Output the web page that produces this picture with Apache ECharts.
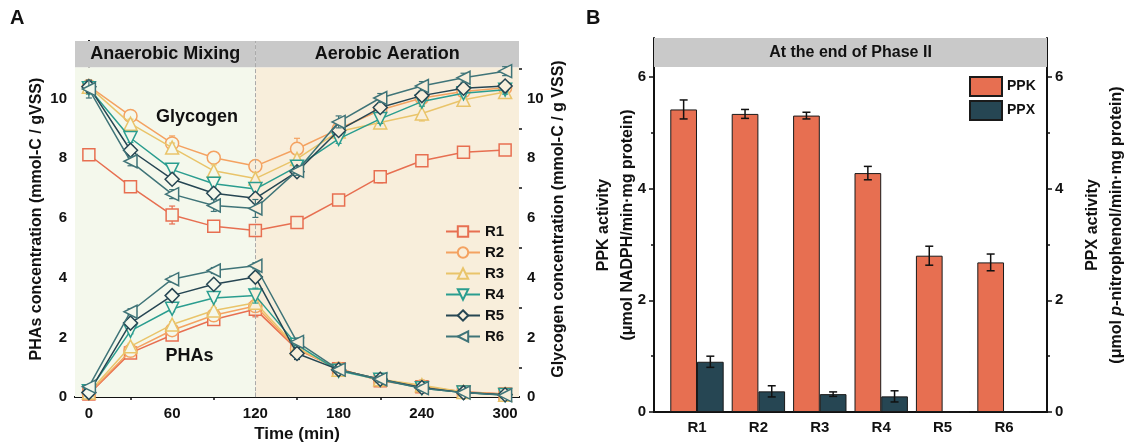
<!DOCTYPE html>
<html><head><meta charset="utf-8">
<script src="https://cdn.jsdelivr.net/npm/echarts@6/dist/echarts.min.js"></script>
<style>html,body{margin:0;padding:0;background:#fff}#c{width:1133px;height:448px}</style>
</head><body><div id="c"></div>
<script>
// ---------- DATA ----------
const time = [0, 30, 60, 90, 120, 150, 180, 210, 240, 270, 300];
const reactors = ['R1', 'R2', 'R3', 'R4', 'R5', 'R6'];

const glyR1 = [8.12, 7.05, 6.10, 5.72, 5.58, 5.85, 6.60, 7.38, 7.92, 8.20, 8.28];
const glyR2 = [10.42, 9.42, 8.50, 8.02, 7.74, 8.32, 8.98, 9.62, 10.02, 10.24, 10.36];
const glyR3 = [10.40, 9.16, 8.36, 7.58, 7.32, 7.98, 8.90, 9.20, 9.50, 9.96, 10.22];
const glyR4 = [10.35, 8.68, 7.62, 7.15, 6.97, 7.72, 8.65, 9.32, 9.90, 10.18, 10.30];
const glyR5 = [10.40, 8.27, 7.30, 6.83, 6.66, 7.55, 8.93, 9.70, 10.10, 10.35, 10.42];
const glyR6 = [10.32, 7.90, 6.80, 6.42, 6.32, 7.58, 9.22, 10.02, 10.42, 10.70, 10.92];

const glyErrR1 = [0.10, 0.15, 0.30, 0.10, 0.20, 0.10, 0.10, 0.20, 0.15, 0.10, 0.15];
const glyErrR2 = [0.20, 0.10, 0.25, 0.15, 0.15, 0.35, 0.15, 0.15, 0.15, 0.15, 0.15];
const glyErrR3 = [0.20, 0.15, 0.15, 0.20, 0.20, 0.15, 0.15, 0.15, 0.25, 0.20, 0.20];
const glyErrR4 = [0.20, 0.15, 0.15, 0.15, 0.20, 0.15, 0.15, 0.15, 0.15, 0.10, 0.15];
const glyErrR5 = [0.20, 0.15, 0.15, 0.15, 0.15, 0.15, 0.15, 0.15, 0.15, 0.10, 0.15];
const glyErrR6 = [0.30, 0.15, 0.15, 0.20, 0.30, 0.15, 0.20, 0.15, 0.15, 0.15, 0.15];

const phaR1 = [0.10, 1.48, 2.08, 2.60, 2.94, 1.60, 0.95, 0.55, 0.35, 0.18, 0.10];
const phaR2 = [0.12, 1.55, 2.24, 2.74, 3.05, 1.62, 0.95, 0.56, 0.36, 0.16, 0.10];
const phaR3 = [0.15, 1.70, 2.43, 2.90, 3.16, 1.66, 0.92, 0.60, 0.40, 0.17, 0.08];
const phaR4 = [0.20, 2.22, 2.96, 3.32, 3.40, 1.75, 0.88, 0.58, 0.30, 0.15, 0.07];
const phaR5 = [0.15, 2.48, 3.40, 3.78, 4.02, 1.46, 0.92, 0.60, 0.32, 0.15, 0.08];
const phaR6 = [0.35, 2.86, 3.95, 4.24, 4.40, 1.85, 0.92, 0.60, 0.30, 0.15, 0.06];

const phaErrR1 = [0.05, 0.10, 0.10, 0.10, 0.25, 0.15, 0.15, 0.10, 0.10, 0.08, 0.05];
const phaErrR2 = [0.05, 0.10, 0.10, 0.10, 0.15, 0.15, 0.15, 0.10, 0.10, 0.08, 0.05];
const phaErrR3 = [0.05, 0.10, 0.10, 0.10, 0.15, 0.15, 0.15, 0.12, 0.12, 0.08, 0.05];
const phaErrR4 = [0.05, 0.10, 0.10, 0.10, 0.25, 0.12, 0.12, 0.10, 0.10, 0.08, 0.05];
const phaErrR5 = [0.05, 0.10, 0.10, 0.10, 0.10, 0.20, 0.10, 0.10, 0.10, 0.08, 0.05];
const phaErrR6 = [0.05, 0.10, 0.10, 0.10, 0.10, 0.12, 0.10, 0.10, 0.10, 0.08, 0.05];

const barCats = ['R1', 'R2', 'R3', 'R4', 'R5', 'R6'];
const ppk = [5.42, 5.34, 5.31, 4.28, 2.80, 2.68];
const ppkErr = [0.17, 0.08, 0.06, 0.12, 0.17, 0.15];
const ppx = [0.90, 0.37, 0.32, 0.28, 0, 0];
const ppxErr = [0.10, 0.10, 0.04, 0.10, 0, 0];

const xTicksA = [0, 60, 120, 180, 240, 300];
const xMinorA = [30, 90, 150, 210, 270];
const yTicksA = [0, 2, 4, 6, 8, 10];
const yMinorA = [1, 3, 5, 7, 9, 11];
const yTicksB = [0, 2, 4, 6];
const yMinorB = [1, 3, 5];
const barPos = [1, 2, 3, 4, 5, 6];

// ---------- STYLE ----------
const FONT = "'Liberation Sans', Arial, sans-serif";
const NARROW = "'Liberation Sans Narrow', 'Liberation Sans', Arial, sans-serif";
const colors = ['#e76f51', '#f4a261', '#e9c46a', '#2a9d8f', '#264653', '#3f7478'];
const symbols = [
  'rect', 'circle', 'triangle',
  'path://M0,0L10,0L5,10Z',
  'diamond',
  'path://M10,0L10,10L0,5Z'
];
const symSizes = [12, 13, 13, 13, 14, 13];
const bgA = '#f4f8ec', bgB = '#f8eedb', headGray = '#c9c9c9';
const glyAll = [glyR1, glyR2, glyR3, glyR4, glyR5, glyR6];
const glyErrAll = [glyErrR1, glyErrR2, glyErrR3, glyErrR4, glyErrR5, glyErrR6];
const phaAll = [phaR1, phaR2, phaR3, phaR4, phaR5, phaR6];
const phaErrAll = [phaErrR1, phaErrR2, phaErrR3, phaErrR4, phaErrR5, phaErrR6];

const A_MAX = 11.93, A_HEAD = 11.05, B_MAX = 6.7, B_HEAD = 6.18;
const BAR_W = 26.7;

function errRender(color, dx, cap, lw) {
  return function (params, api) {
    const x = api.value(0), y = api.value(1), e = api.value(2);
    if (!e) return null;
    const t = api.coord([x, y + e]);
    const b = api.coord([x, y - e]);
    const xs = t[0] + dx;
    const style = { stroke: color, lineWidth: lw, fill: null };
    return {
      type: 'group', children: [
        { type: 'line', shape: { x1: xs, y1: t[1], x2: xs, y2: b[1] }, style: style },
        { type: 'line', shape: { x1: xs - cap, y1: t[1], x2: xs + cap, y2: t[1] }, style: style },
        { type: 'line', shape: { x1: xs - cap, y1: b[1], x2: xs + cap, y2: b[1] }, style: style }
      ]
    };
  };
}

const axisLineStyle = { show: true, lineStyle: { color: '#111', width: 2 } };
const tickLabelA = { color: '#111', fontWeight: 'bold', fontSize: 15, fontFamily: FONT };
const tickLabelB = { color: '#111', fontWeight: 'bold', fontSize: 15, fontFamily: NARROW };

const series = [];
// background + header for panel A
series.push({
  type: 'line', xAxisIndex: 0, yAxisIndex: 0, data: [], silent: true, z: 0,
  markArea: {
    silent: true,
    data: [
      [{ xAxis: -10, yAxis: 0, itemStyle: { color: bgA } }, { xAxis: 120, yAxis: A_HEAD }],
      [{ xAxis: 120, yAxis: 0, itemStyle: { color: bgB } }, { xAxis: 310, yAxis: A_HEAD }],
      [{ xAxis: -10, yAxis: A_HEAD, name: 'Anaerobic Mixing', itemStyle: { color: headGray } }, { xAxis: 120, yAxis: A_MAX }],
      [{ xAxis: 120, yAxis: A_HEAD, name: 'Aerobic Aeration', itemStyle: { color: headGray } }, { xAxis: 310, yAxis: A_MAX }]
    ],
    label: { show: true, position: 'inside', color: '#111', fontWeight: 'bold', fontSize: 18, fontFamily: FONT,
      formatter: p => (p.name || '') }
  },
  markLine: {
    silent: true, symbol: 'none', label: { show: false },
    lineStyle: { color: '#aaa', type: 'dashed', width: 1 },
    data: [{ xAxis: 120 }]
  }
});

reactors.forEach((r, k) => {
  const mk = (arr) => time.map((t, i) => ({ value: [t, arr[i]], itemStyle: { color: t < 120 ? bgA : bgB } }));
  const base = {
    name: r, type: 'line', xAxisIndex: 0, yAxisIndex: 0,
    symbol: symbols[k], symbolSize: symSizes[k], showAllSymbol: true,
    lineStyle: { color: colors[k], width: 1.5 },
    itemStyle: { color: bgB, borderColor: colors[k], borderWidth: 1.5 },
    emphasis: { disabled: true }, z: 3 + k
  };
  series.push(Object.assign({}, base, { data: mk(glyAll[k]) }));
  series.push(Object.assign({}, base, { data: mk(phaAll[k]) }));
  const errData = time.map((t, i) => [t, glyAll[k][i], glyErrAll[k][i]])
    .concat(time.map((t, i) => [t, phaAll[k][i], phaErrAll[k][i]]));
  series.push({
    type: 'custom', xAxisIndex: 0, yAxisIndex: 0, data: errData, z: 3 + k, silent: true,
    encode: { x: 0, y: 1 }, renderItem: errRender(colors[k], 0, 3, 1.2)
  });
});

// panel B header
series.push({
  type: 'line', xAxisIndex: 3, yAxisIndex: 4, data: [], silent: true, z: 0,
  markArea: {
    silent: true,
    data: [[{ xAxis: 0.3, yAxis: B_HEAD, name: 'At the end of Phase II', itemStyle: { color: headGray } }, { xAxis: 6.7, yAxis: B_MAX }]],
    label: { show: true, position: 'inside', color: '#111', fontSize: 16, fontWeight: 'bold', fontFamily: NARROW, formatter: p => p.name }
  }
});
series.push({
  name: 'PPK', type: 'bar', xAxisIndex: 3, yAxisIndex: 4,
  data: ppk.map((v, i) => [barPos[i], v]), barWidth: BAR_W, barGap: '0%',
  itemStyle: { color: '#e76f51', borderColor: '#1a1a1a', borderWidth: 1 }, emphasis: { disabled: true }
});
series.push({
  name: 'PPX', type: 'bar', xAxisIndex: 3, yAxisIndex: 4,
  data: ppx.map((v, i) => [barPos[i], v]), barWidth: BAR_W, barGap: '0%',
  itemStyle: { color: '#264653', borderColor: '#1a1a1a', borderWidth: 1 }, emphasis: { disabled: true }
});
series.push({
  type: 'custom', xAxisIndex: 3, yAxisIndex: 4, z: 5, silent: true, encode: { x: 0, y: 1 },
  data: ppk.map((v, i) => [barPos[i], v, ppkErr[i]]), renderItem: errRender('#111', -BAR_W / 2, 4, 1.5)
});
series.push({
  type: 'custom', xAxisIndex: 3, yAxisIndex: 4, z: 5, silent: true, encode: { x: 0, y: 1 },
  data: ppx.map((v, i) => [barPos[i], v, ppxErr[i]]), renderItem: errRender('#111', BAR_W / 2, 4, 1.5)
});

const option = {
  animation: false,
  backgroundColor: '#fff',
  textStyle: { fontFamily: FONT },
  grid: [
    { left: 75, top: 41, width: 444, height: 358, containLabel: false },
    { left: 654, top: 38, width: 393, height: 374, containLabel: false }
  ],
  xAxis: [
    { gridIndex: 0, type: 'value', min: -10, max: 310, axisLine: axisLineStyle,
      axisTick: { show: true, inside: true, length: 5, customValues: xTicksA, lineStyle: { color: '#111', width: 1.5 } },
      axisLabel: Object.assign({ customValues: xTicksA, margin: 9 }, tickLabelA),
      splitLine: { show: false },
      name: 'Time (min)', nameLocation: 'middle', nameGap: 28,
      nameTextStyle: { color: '#111', fontWeight: 'bold', fontSize: 17, fontFamily: FONT } },
    { gridIndex: 0, type: 'value', min: -10, max: 310, axisLine: { show: false },
      axisTick: { show: true, inside: true, length: 3, customValues: xMinorA, lineStyle: { color: '#111', width: 1.5 } },
      axisLabel: { show: false }, splitLine: { show: false } },
    { gridIndex: 0, type: 'value', position: 'top', min: -10, max: 310, axisLine: axisLineStyle,
      axisTick: { show: false }, axisLabel: { show: false }, splitLine: { show: false } },
    { gridIndex: 1, type: 'value', min: 0.3, max: 6.7, axisLine: axisLineStyle,
      axisTick: { show: false },
      axisLabel: Object.assign({ customValues: barPos, margin: 8, formatter: v => barCats[Math.round(v) - 1] || '' }, tickLabelB),
      splitLine: { show: false } },
    { gridIndex: 1, type: 'value', position: 'top', min: 0.3, max: 6.7, axisLine: axisLineStyle,
      axisTick: { show: false }, axisLabel: { show: false }, splitLine: { show: false } }
  ],
  yAxis: [
    { gridIndex: 0, type: 'value', position: 'left', min: 0, max: A_MAX, axisLine: axisLineStyle,
      axisTick: { show: true, length: 5, customValues: yTicksA, lineStyle: { color: '#111', width: 1.5 } },
      axisLabel: Object.assign({ customValues: yTicksA, margin: 8 }, tickLabelA), splitLine: { show: false },
      name: 'PHAs concentration (mmol-C / gVSS)', nameLocation: 'middle', nameGap: 30,
      nameTextStyle: { color: '#111', fontWeight: 'bold', fontSize: 16, fontFamily: FONT } },
    { gridIndex: 0, type: 'value', position: 'left', min: 0, max: A_MAX, axisLine: { show: false },
      axisTick: { show: true, length: 3, customValues: yMinorA, lineStyle: { color: '#111', width: 1.5 } },
      axisLabel: { show: false }, splitLine: { show: false } },
    { gridIndex: 0, type: 'value', position: 'right', min: 0, max: A_MAX, axisLine: axisLineStyle,
      axisTick: { show: true, length: 5, customValues: yTicksA, lineStyle: { color: '#111', width: 1.5 } },
      axisLabel: Object.assign({ customValues: yTicksA, margin: 8 }, tickLabelA), splitLine: { show: false },
      name: 'Glycogen concentration (mmol-C / g VSS)', nameLocation: 'middle', nameGap: 32,
      nameTextStyle: { color: '#111', fontWeight: 'bold', fontSize: 16, fontFamily: FONT } },
    { gridIndex: 0, type: 'value', position: 'right', min: 0, max: A_MAX, axisLine: { show: false },
      axisTick: { show: true, length: 3, customValues: yMinorA, lineStyle: { color: '#111', width: 1.5 } },
      axisLabel: { show: false }, splitLine: { show: false } },
    { gridIndex: 1, type: 'value', position: 'left', min: 0, max: B_MAX, axisLine: axisLineStyle,
      axisTick: { show: true, length: 5, customValues: yTicksB, lineStyle: { color: '#111', width: 1.5 } },
      axisLabel: Object.assign({ customValues: yTicksB, margin: 8 }, tickLabelB), splitLine: { show: false },
      name: 'PPK activity\n(μmol NADPH/min·mg protein)', nameLocation: 'middle', nameGap: 14, nameMoveOverlap: false,
      nameTextStyle: { color: '#111', fontWeight: 'bold', fontSize: 16, lineHeight: 24, fontFamily: FONT } },
    { gridIndex: 1, type: 'value', position: 'left', min: 0, max: B_MAX, axisLine: { show: false },
      axisTick: { show: true, length: 3, customValues: yMinorB, lineStyle: { color: '#111', width: 1.5 } },
      axisLabel: { show: false }, splitLine: { show: false } },
    { gridIndex: 1, type: 'value', position: 'right', min: 0, max: B_MAX, axisLine: axisLineStyle,
      axisTick: { show: true, length: 5, customValues: yTicksB, lineStyle: { color: '#111', width: 1.5 } },
      axisLabel: Object.assign({ customValues: yTicksB, margin: 8 }, tickLabelB), splitLine: { show: false },
      name: '{a|PPX activity}\n{a|(μmol }{i|p}{a|-nitrophenol/min·mg protein)}', nameLocation: 'middle', nameGap: 34, nameMoveOverlap: false,
      nameTextStyle: { color: '#111', fontWeight: 'bold', fontSize: 16, lineHeight: 24, fontFamily: FONT,
        rich: { a: { fontWeight: 'bold', fontSize: 16, fontFamily: FONT, color: '#111', lineHeight: 24 },
                i: { fontWeight: 'bold', fontStyle: 'italic', fontSize: 16, fontFamily: FONT, color: '#111', lineHeight: 24 } } } },
    { gridIndex: 1, type: 'value', position: 'right', min: 0, max: B_MAX, axisLine: { show: false },
      axisTick: { show: true, length: 3, customValues: yMinorB, lineStyle: { color: '#111', width: 1.5 } },
      axisLabel: { show: false }, splitLine: { show: false } }
  ],
  legend: [
    { data: reactors, orient: 'vertical', left: 440, top: 219, itemWidth: 34, itemHeight: 13, itemGap: 6,
      textStyle: { color: '#111', fontWeight: 'bold', fontSize: 15, fontFamily: FONT }, selectedMode: false },
    { data: ['PPK', 'PPX'], orient: 'vertical', left: 964, top: 71, itemWidth: 32, itemHeight: 19, itemGap: 3,
      icon: 'rect',
      textStyle: { color: '#111', fontWeight: 'bold', fontSize: 14, fontFamily: NARROW }, selectedMode: false }
  ],
  series: series
};

const chart = echarts.init(document.getElementById('c'), null, { renderer: 'canvas' });
chart.setOption(option);

const pGly = chart.convertToPixel({ gridIndex: 0 }, [78, 9.37]);
const pPha = chart.convertToPixel({ gridIndex: 0 }, [72.5, 1.37]);
chart.setOption({
  graphic: [
    { type: 'text', left: 10, top: 8, style: { text: 'A', font: 'bold 20px ' + FONT, fill: '#111' } },
    { type: 'text', left: 586, top: 8, style: { text: 'B', font: 'bold 20px ' + FONT, fill: '#111' } },
    { type: 'text', x: pGly[0], y: pGly[1], z: 20, style: { text: 'Glycogen', font: 'bold 18px ' + FONT, fill: '#111', align: 'center', verticalAlign: 'middle' } },
    { type: 'text', x: pPha[0], y: pPha[1], z: 20, style: { text: 'PHAs', font: 'bold 18px ' + FONT, fill: '#111', align: 'center', verticalAlign: 'middle' } }
  ]
});
</script>
</body></html>
